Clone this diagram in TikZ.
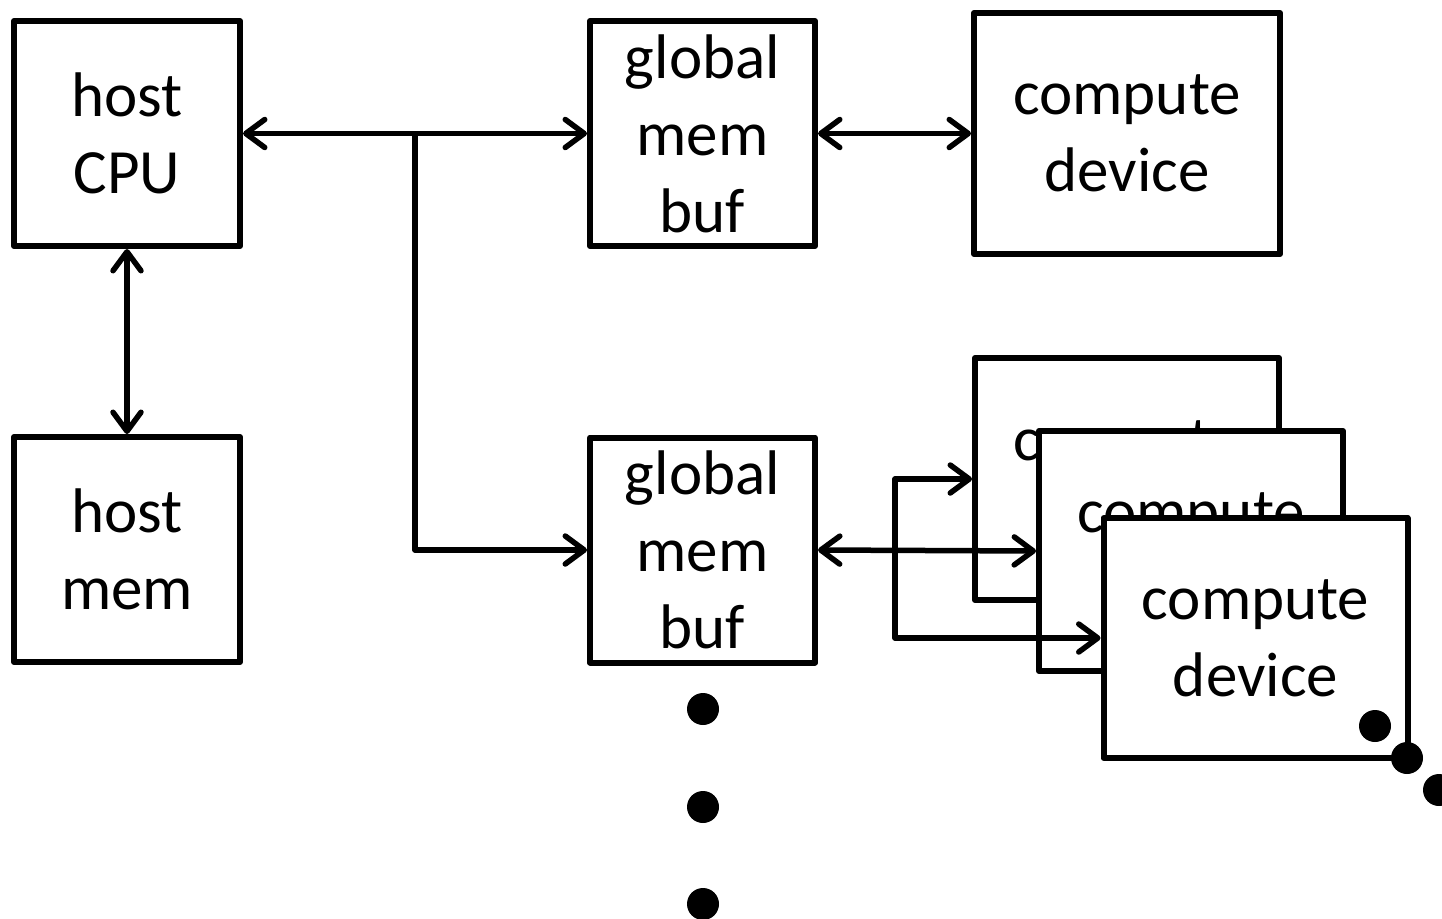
\documentclass[tikz,border=0pt]{standalone}
\usepackage{fontspec}
\setmainfont{Carlito}
\usetikzlibrary{arrows.meta}
\tikzset{
  box/.style={draw=black, line width=6pt, fill=white, inner sep=0pt, align=center,
    font=\fontsize{63}{77}\selectfont, line join=round},
  conn/.style={draw=black, line width=5.5pt, line join=round},
  >={Straight Barb[length=19pt, width=28pt, round]},
  dot/.style={fill=black, draw=none}
}
\begin{document}
\begin{tikzpicture}[x=1pt, y=-1pt]
\useasboundingbox (0,0) rectangle (1442,918);
\clip (0,0) rectangle (1442,918);
% left column
\node[box, minimum width=226pt, minimum height=225pt] (cpu) at (127,133.5) {host\\CPU};
\node[box, minimum width=226pt, minimum height=225pt] (hmem) at (127,549.5) {host\\mem};
% global mem bufs
\node[box, minimum width=225pt, minimum height=225pt] (gb1) at (702.5,133.5) {global\\mem\\buf};
\node[box, minimum width=225pt, minimum height=225pt] (gb2) at (702.5,550) {global\\mem\\buf};
% compute devices
\node[box, minimum width=306pt, minimum height=241pt] (cd) at (1127,133.5) {compute\\device};
\node[box, minimum width=304pt, minimum height=242pt] (back) at (1127,479) {compute\\device};
\node[box, minimum width=304pt, minimum height=240pt] (mid) at (1191,551) {compute\\device};
\node[box, minimum width=304pt, minimum height=240pt] (front) at (1255.5,638) {compute\\device};
% connectors
\coordinate (j) at (415,133.5);
\draw[conn, <->] (cpu.east) -- (gb1.west);
\draw[conn, ->] (j) |- (gb2.west);
\draw[conn, <->] (cpu.south) -- (hmem.north);
\draw[conn, <->] (gb1.east) -- (cd.west);
\draw[conn, <->] (gb2.east) -- (mid.west);
\coordinate (b1) at (895,479);
\coordinate (b2) at (895,638);
\draw[conn, <->] (back.west) -- (b1) -- (b2) -- (front.west);
% ellipsis dots
\fill[dot] (703,709) circle (16pt);
\fill[dot] (703,807) circle (16pt);
\fill[dot] (703,904) circle (16pt);
\fill[dot] (1375,726) circle (16pt);
\fill[dot] (1407,758) circle (16pt);
\fill[dot] (1439,790) circle (16pt);
\end{tikzpicture}
\end{document}
